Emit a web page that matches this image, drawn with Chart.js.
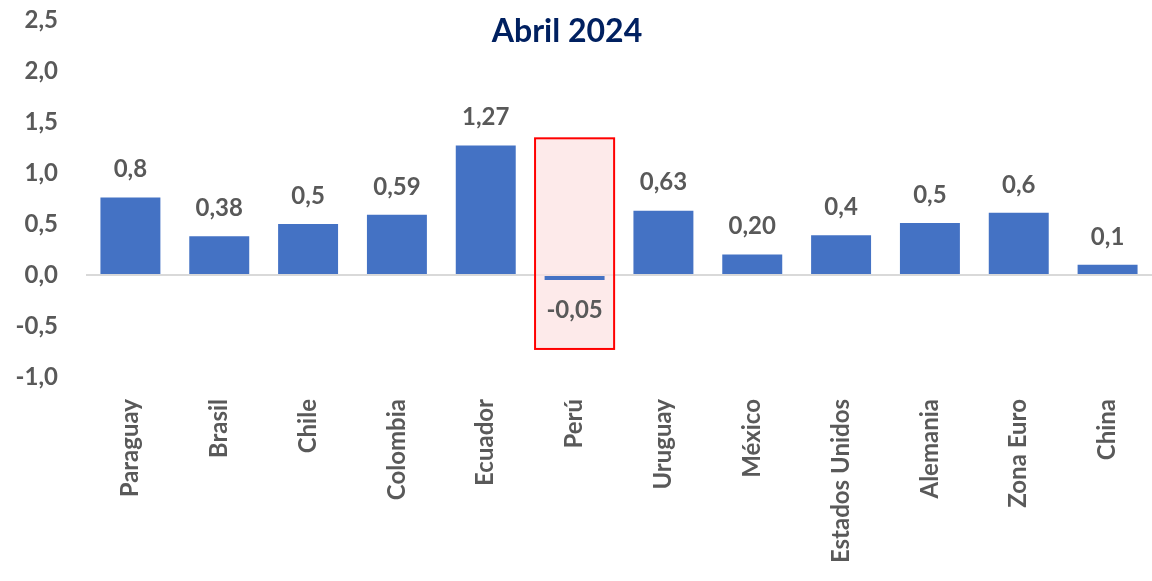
<!DOCTYPE html>
<html>
<head>
<meta charset="utf-8">
<script src="https://cdn.jsdelivr.net/npm/chart.js@4"></script>
<style>
  html, body { margin: 0; padding: 0; background: #fff; }
  #wrap { width: 1152px; height: 581px; }
</style>
</head>
<body>
<div id="wrap"><canvas id="myChart"></canvas></div>
<script>
// data
const paises = ['Paraguay', 'Brasil', 'Chile', 'Colombia', 'Ecuador', 'Perú',
  'Uruguay', 'México', 'Estados Unidos', 'Alemania', 'Zona Euro', 'China'];
const inflacion = [0.76, 0.38, 0.5, 0.59, 1.27, -0.05, 0.63, 0.20, 0.39, 0.51, 0.61, 0.10];
const etiquetas = ['0,8', '0,38', '0,5', '0,59', '1,27', '-0,05', '0,63', '0,20', '0,4', '0,5', '0,6', '0,1'];
const titulo = 'Abril 2024';
const resaltado = 'Perú';
const resaltadoRango = [-0.725, 1.34]; // y range of the red box, in axis units

const fuente = 'Lato, "Open Sans", sans-serif';
const gris = '#595959';

// red box behind the highlighted country
const boxPlugin = {
  id: 'box',
  beforeDatasetsDraw(chart) {
    const { ctx, scales } = chart;
    const i = paises.indexOf(resaltado);
    const cx = scales.x.getPixelForValue(i);
    const w = (scales.x.width / paises.length) * 0.445;
    const top = scales.y.getPixelForValue(resaltadoRango[1]);
    const bot = scales.y.getPixelForValue(resaltadoRango[0]);
    ctx.save();
    ctx.fillStyle = 'rgba(252, 225, 225, 0.7)';
    ctx.fillRect(cx - w, top, w * 2, bot - top);
    ctx.strokeStyle = '#ff0000';
    ctx.lineWidth = 2;
    ctx.strokeRect(cx - w, top, w * 2, bot - top);
    ctx.restore();
  }
};

// value labels + title
const labelPlugin = {
  id: 'labels',
  afterDatasetsDraw(chart) {
    const { ctx } = chart;
    const meta = chart.getDatasetMeta(0);
    ctx.save();
    ctx.font = 'bold 24px ' + fuente;
    ctx.fillStyle = gris;
    ctx.textAlign = 'center';
    ctx.textBaseline = 'middle';
    meta.data.forEach((bar, i) => {
      const y = inflacion[i] >= 0 ? bar.y - 28 : bar.y + 30;
      ctx.fillText(etiquetas[i], bar.x, y);
    });
    ctx.font = 'bold 32px ' + fuente;
    ctx.fillStyle = '#002060';
    ctx.fillText(titulo, 567, 32);
    ctx.restore();
  }
};

const data = {
  labels: paises,
  datasets: [{
    data: inflacion,
    backgroundColor: '#4472C4',
    borderWidth: 0,
    categoryPercentage: 1,
    barPercentage: 0.675
  }]
};

const config = {
  type: 'bar',
  data,
  plugins: [boxPlugin, labelPlugin],
  options: {
    responsive: true,
    maintainAspectRatio: false,
    animation: false,
    layout: { padding: { top: 20, right: 0, left: 0, bottom: 0 } },
    plugins: {
      legend: { display: false },
      tooltip: { enabled: false }
    },
    scales: {
      x: {
        grid: { display: false },
        border: { display: false },
        ticks: {
          color: gris,
          font: { family: fuente, size: 24, weight: 'bold' },
          minRotation: 90,
          maxRotation: 90,
          autoSkip: false,
          padding: 14
        },
        afterFit(scale) {
          scale.height = 204;
          scale.paddingLeft = 0;
          scale.paddingRight = 0;
        }
      },
      y: {
        min: -1,
        max: 2.5,
        border: { display: false },
        grid: {
          drawTicks: false,
          lineWidth: 2,
          color: c => (c.tick && c.tick.value === 0 ? '#d9d9d9' : 'transparent')
        },
        ticks: {
          stepSize: 0.5,
          color: gris,
          padding: 28,
          font: { family: fuente, size: 24, weight: 'bold' },
          callback: v => v.toFixed(1).replace('.', ',')
        },
        afterFit(scale) {
          scale.width = 86;
          scale.paddingTop = 0;
          scale.paddingBottom = 0;
        }
      }
    }
  }
};

var myChart = new Chart(document.getElementById('myChart'), config);
</script>
</body>
</html>
